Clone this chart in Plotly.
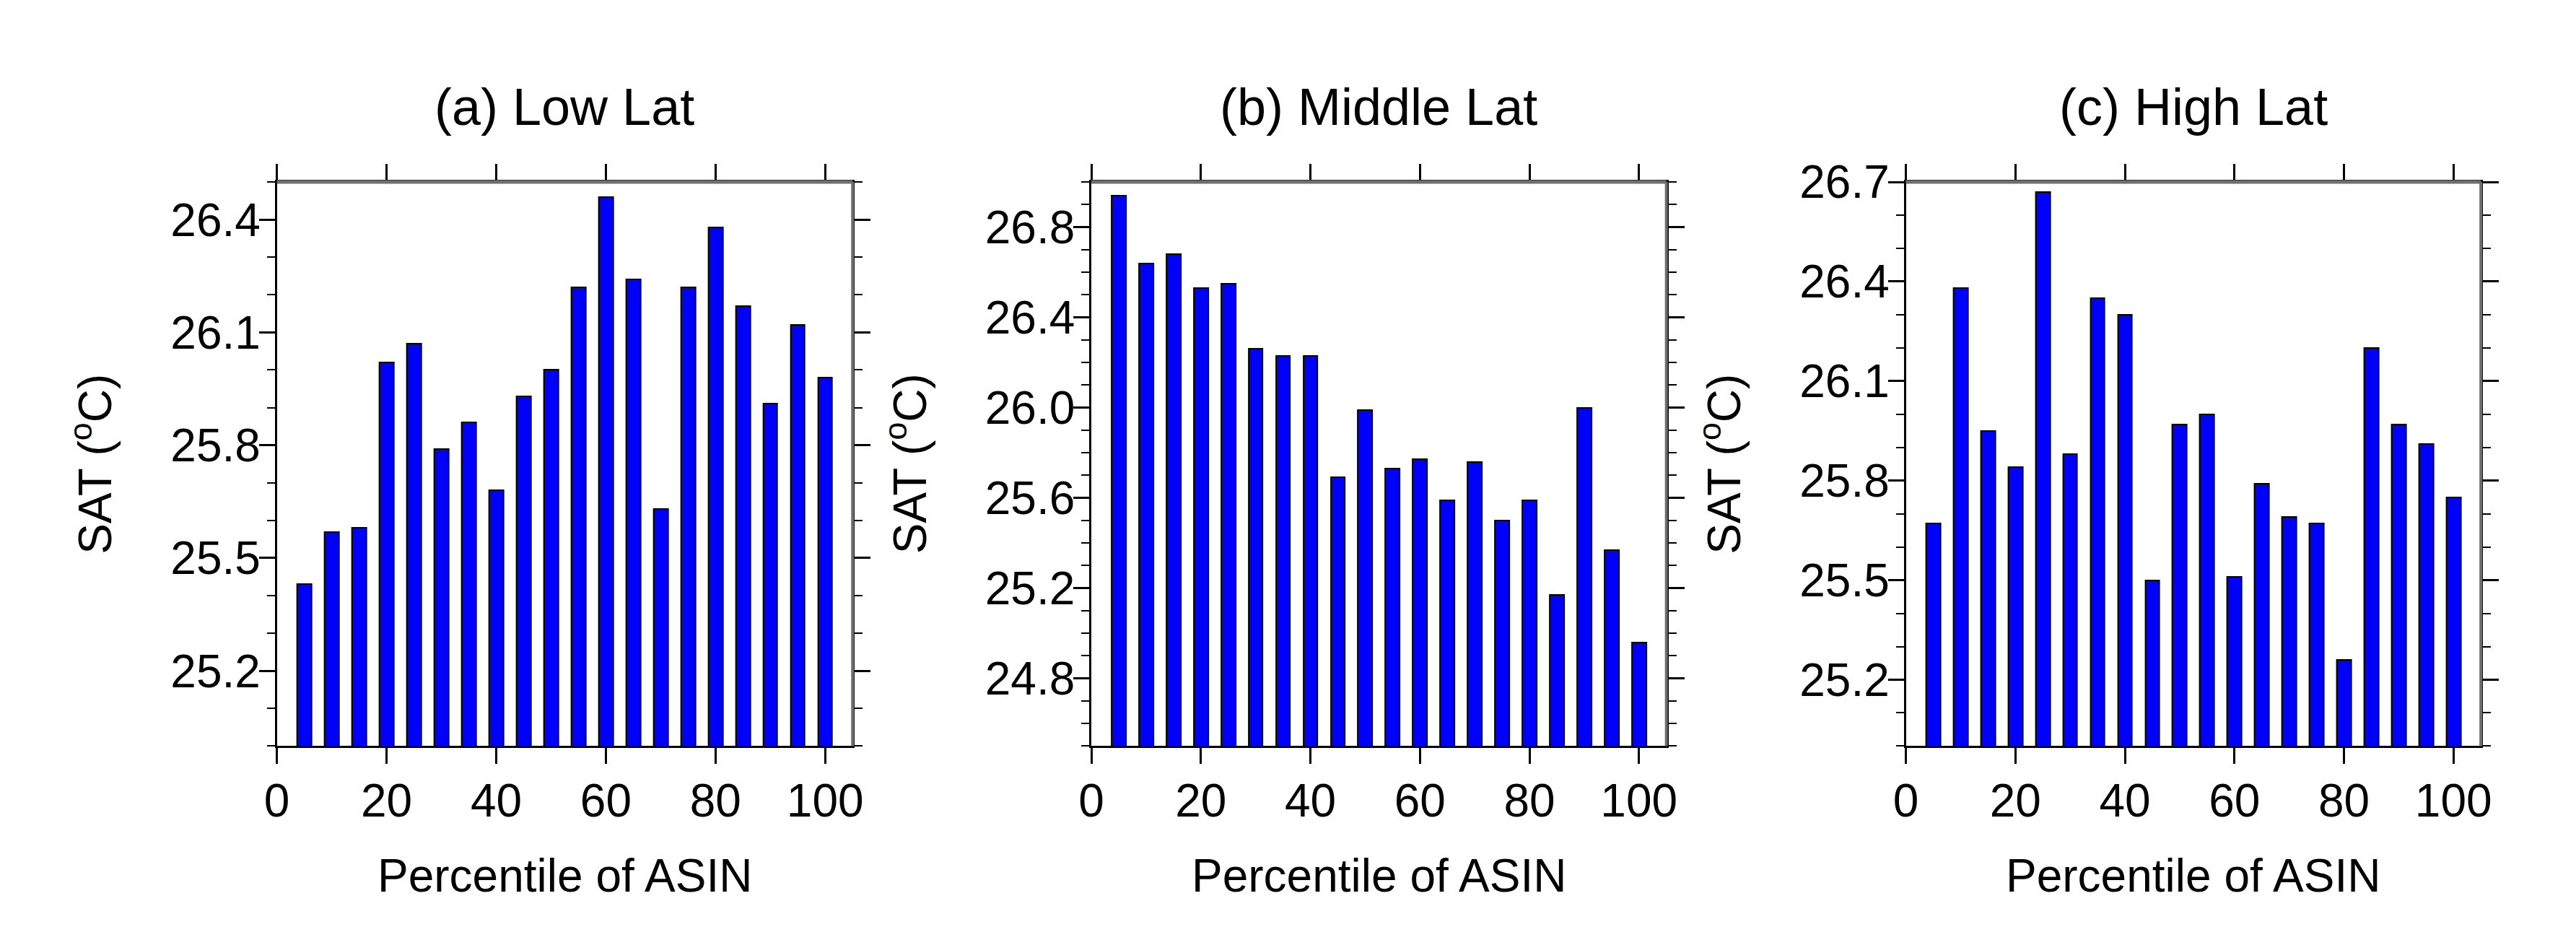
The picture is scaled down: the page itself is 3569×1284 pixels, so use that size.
import plotly.graph_objects as go

# ---------------- data ----------------
percentile = [5, 10, 15, 20, 25, 30, 35, 40, 45, 50, 55, 60, 65, 70, 75, 80, 85, 90, 95, 100]

low_lat = [25.43, 25.57, 25.58, 26.02, 26.07, 25.79, 25.86, 25.68, 25.93, 26.00,
           26.22, 26.46, 26.24, 25.63, 26.22, 26.38, 26.17, 25.91, 26.12, 25.98]
mid_lat = [26.94, 26.64, 26.68, 26.53, 26.55, 26.26, 26.23, 26.23, 25.69, 25.99,
           25.73, 25.77, 25.59, 25.76, 25.50, 25.59, 25.17, 26.00, 25.37, 24.96]
high_lat = [25.67, 26.38, 25.95, 25.84, 26.67, 25.88, 26.35, 26.30, 25.50, 25.97,
            26.00, 25.51, 25.79, 25.69, 25.67, 25.26, 26.20, 25.97, 25.91, 25.75]

titles = ["(a) Low Lat", "(b) Middle Lat", "(c) High Lat"]
x_title = "Percentile of ASIN"
y_title = "SAT (<sup>o</sup>C)"
x_ticks = [0, 20, 40, 60, 80, 100]

y_ranges = [[25.0, 26.5], [24.5, 27.0], [25.0, 26.7001]]
y_tick0 = [25.2, 24.8, 25.2]
y_dtick = [0.3, 0.4, 0.3]

# ---------------- layout geometry ----------------
W, H = 3569, 1284
panel_px = [(361, 1166), (1500, 2304), (2639, 3443)]
top_px, bot_px = 214, 1018
y_dom = [1 - bot_px / H, 1 - top_px / H]

FONT = "Liberation Sans, Arial, Helvetica, sans-serif"
series = [low_lat, mid_lat, high_lat]

fig = go.Figure()
layout = dict(
    width=W, height=H,
    margin=dict(l=0, r=0, t=0, b=0),
    paper_bgcolor="white", plot_bgcolor="white",
    showlegend=False,
    font=dict(family=FONT, color="black", size=64),
    bargap=0,
)
annotations = []
shapes = []

for i, (vals, (x0, x1)) in enumerate(zip(series, panel_px)):
    xa = "x" if i == 0 else f"x{i+1}"
    ya = "y" if i == 0 else f"y{i+1}"
    fig.add_trace(go.Bar(
        x=percentile, y=vals, width=2.6,
        marker=dict(color="#0000FF", line=dict(color="black", width=2)),
        xaxis=xa, yaxis=ya,
    ))
    xkey = "xaxis" if i == 0 else f"xaxis{i+1}"
    ykey = "yaxis" if i == 0 else f"yaxis{i+1}"
    layout[xkey] = dict(
        domain=[x0 / W, x1 / W], anchor=ya, range=[0, 105],
        tickmode="array", tickvals=x_ticks, ticktext=[str(t) for t in x_ticks],
        ticks="outside", ticklen=22, tickwidth=3, tickcolor="black",
        showline=True, linecolor="black", linewidth=3, mirror="ticks",
        showgrid=False, zeroline=False,
        tickfont=dict(size=64, family=FONT), ticklabelstandoff=-4,
    )
    layout[ykey] = dict(
        domain=y_dom, anchor=xa, range=y_ranges[i],
        tickmode="linear", tick0=y_tick0[i], dtick=y_dtick[i], tickformat=".1f",
        ticks="outside", ticklen=22, tickwidth=3, tickcolor="black",
        minor=dict(dtick=0.1, tick0=y_tick0[i], ticks="outside", ticklen=11,
                   tickwidth=2, tickcolor="black"),
        showline=True, linecolor="black", linewidth=3, mirror="ticks",
        showgrid=False, zeroline=False,
        tickfont=dict(size=64, family=FONT), ticklabelstandoff=-15,
    )
    # grey top / right frame edges as in the reference rendering
    shapes.append(dict(type="line", xref=f"{xa} domain", yref=f"{ya} domain",
                       x0=0, x1=1, y0=1, y1=1, layer="above",
                       line=dict(color="#6e6e6e", width=5)))
    shapes.append(dict(type="line", xref=f"{xa} domain", yref=f"{ya} domain",
                       x0=1, x1=1, y0=0, y1=1, layer="above",
                       line=dict(color="#6e6e6e", width=4)))
    cx = (x0 + x1) / 2 / W
    annotations.append(dict(
        text=titles[i], x=cx, y=1 - 107 / H, xref="paper", yref="paper",
        xanchor="center", yanchor="middle", showarrow=False,
        font=dict(size=72, family=FONT, color="black"),
    ))
    annotations.append(dict(
        text=x_title, x=cx, y=1 - 1203 / H, xref="paper", yref="paper",
        xanchor="center", yanchor="middle", showarrow=False,
        font=dict(size=64, family=FONT, color="black"),
    ))
    annotations.append(dict(
        text=y_title, x=(x0 - 259) / W, y=(y_dom[0] + y_dom[1]) / 2,
        xref="paper", yref="paper", textangle=-90,
        xanchor="center", yanchor="middle", showarrow=False,
        font=dict(size=64, family=FONT, color="black"),
    ))

layout["annotations"] = annotations
layout["shapes"] = shapes
fig.update_layout(**layout)
fig.write_html("out.html")
